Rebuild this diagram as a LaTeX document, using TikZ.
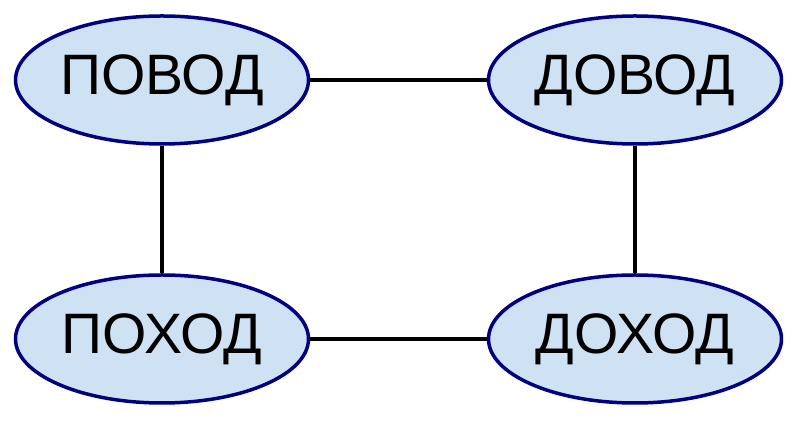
\documentclass[tikz,border=0pt]{standalone}
\usepackage{fontspec}
\setmainfont{Liberation Sans}
\usetikzlibrary{shapes.geometric}
\definecolor{wordfill}{HTML}{CFE2F3}
\definecolor{wordline}{HTML}{000080}
\tikzset{
  word/.style={ellipse, draw=wordline, fill=wordfill, line width=3.5pt,
    minimum width=293pt, minimum height=128pt, inner sep=0pt,
    font=\fontsize{57}{68}\selectfont},
  link/.style={-, line width=3.5pt, black}
}
\begin{document}
\begin{tikzpicture}[x=1pt, y=1pt]
  \useasboundingbox (0,0) rectangle (800,422);
  \draw
    (162,342) node[word] (povod){ПОВОД}
    (635,342) node[word] (dovod){ДОВОД}
    (162,83) node[word] (pohod){ПОХОД}
    (635,83) node[word] (dohod){ДОХОД};
  \begin{scope}[link]
    \draw (povod) to (dovod);
    \draw (povod) to (pohod);
    \draw (dovod) to (dohod);
    \draw (pohod) to (dohod);
  \end{scope}
\end{tikzpicture}
\end{document}
